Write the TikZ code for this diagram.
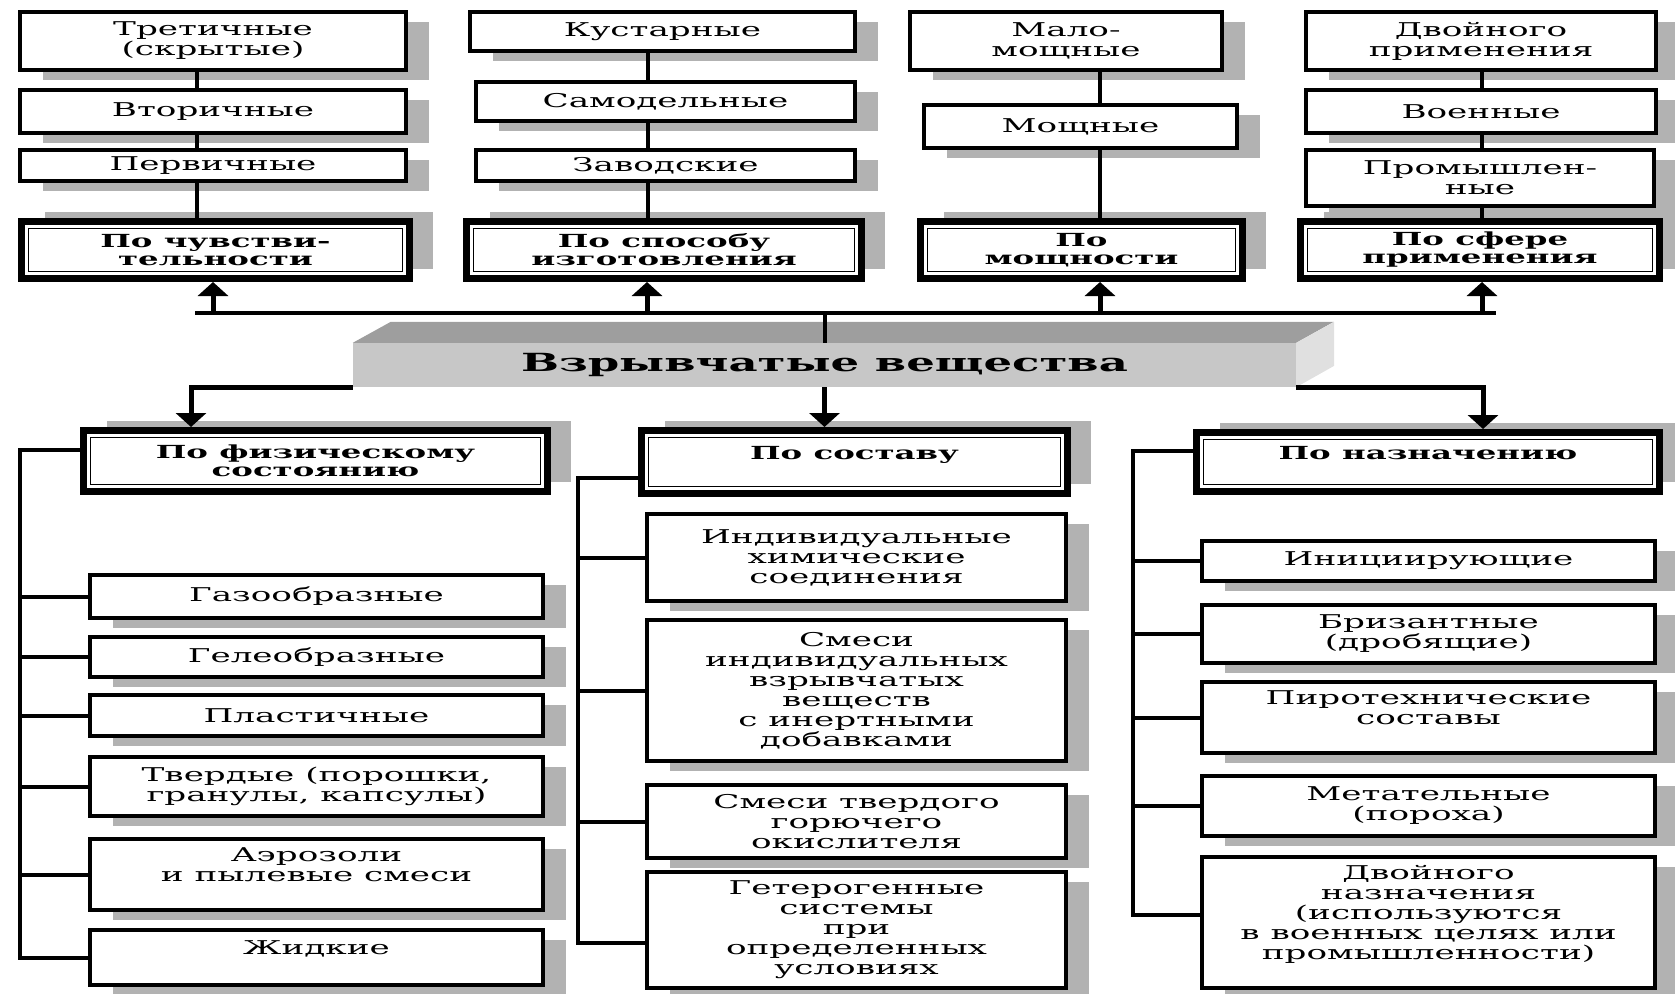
\documentclass[tikz,border=0pt]{standalone}
\usepackage{fontspec}
\setmainfont{DejaVu Serif}[FakeStretch=1.8]
\usetikzlibrary{arrows.meta,shadows}

\tikzset{
  box/.style={draw, line width=4pt, fill=white, align=center, inner sep=2pt,
    font=\fontsize{19}{20}\selectfont,
    drop shadow={shadow xshift=23pt, shadow yshift=-10pt, fill=black!30, opacity=1}},
  headbox/.style={draw, line width=7pt, fill=white, align=center, inner sep=2pt,
    font=\bfseries\fontsize{18}{18}\selectfont,
    drop shadow={shadow xshift=23pt, shadow yshift=10pt, fill=black!30, opacity=1},
    path picture={\draw[line width=1.6pt]
      ([shift={(7pt,-7pt)}]path picture bounding box.north west) rectangle
      ([shift={(-7pt,7pt)}]path picture bounding box.south east);}},
  link/.style={line width=4pt},
  arr/.style={line width=5pt, -{Triangle[length=14pt,width=30pt]}}
}

\begin{document}
\begin{tikzpicture}[x=1pt, y=-1pt]
\useasboundingbox (0,0) rectangle (1675,993);

% upper columns
\node[box, minimum width=386pt, minimum height=58pt] (sens3) at (213,41) {Третичные\\(скрытые)};
\node[box, minimum width=386pt, minimum height=43pt] (sens2) at (213,111.5) {Вторичные};
\node[box, minimum width=386pt, minimum height=31pt] (sens1) at (213,165.5) {Первичные};
\node[headbox, minimum width=388pt, minimum height=57pt] (sens) at (215.5,250) {По чувстви-\\тельности};

\node[box, minimum width=385pt, minimum height=39pt] (made3) at (662.5,31.5) {Кустарные};
\node[box, minimum width=379pt, minimum height=39pt] (made2) at (665.5,101.5) {Самодельные};
\node[box, minimum width=379pt, minimum height=31pt] (made1) at (665.5,165.5) {Заводские};
\node[headbox, minimum width=395pt, minimum height=57pt] (made) at (664,250) {По способу\\изготовления};

\node[box, minimum width=312pt, minimum height=58pt] (pow2) at (1066,41) {Мало-\\мощные};
\node[box, minimum width=313pt, minimum height=43pt] (pow1) at (1080.5,126.5) {Мощные};
\node[headbox, minimum width=322pt, minimum height=57pt] (pow) at (1081.5,250) {По\\мощности};

\node[box, minimum width=350pt, minimum height=58pt] (use3) at (1481,41) {Двойного\\применения};
\node[box, minimum width=350pt, minimum height=43pt] (use2) at (1481,111.5) {Военные};
\node[box, minimum width=348pt, minimum height=56pt] (use1) at (1480,178) {Промышлен-\\ные};
\node[headbox, minimum width=359pt, minimum height=57pt] (use) at (1480,250) {По сфере\\применения};

% central block
\node[fill=black!22, minimum width=943pt, minimum height=44pt, inner sep=0pt,
  font=\bfseries\fontsize{25}{25}\selectfont] (vv) at (824.5,365) {Взрывчатые вещества};
\fill[black!38] (vv.north west) -- ++(38,-21) -- ++(943,0) -- (vv.north east) -- cycle;
\fill[black!12] (vv.north east) -- ++(38,-21) -- ++(0,44) -- (vv.south east) -- cycle;

% lower columns
\node[headbox, minimum width=464pt, minimum height=61pt] (phys) at (315.5,461) {По физическому\\состоянию};
\node[headbox, minimum width=426pt, minimum height=63pt] (comp) at (854.5,462) {По составу\\\mbox{}};
\node[headbox, minimum width=463pt, minimum height=59pt] (aim) at (1428,462) {По назначению\\\mbox{}};

\node[box, minimum width=453pt, minimum height=43pt] (phys1) at (316.5,596.5) {Газообразные};
\node[box, minimum width=453pt, minimum height=40pt] (phys2) at (316.5,657) {Гелеобразные};
\node[box, minimum width=453pt, minimum height=41pt] (phys3) at (316.5,715.5) {Пластичные};
\node[box, minimum width=453pt, minimum height=59pt] (phys4) at (316.5,786.5) {Твердые (порошки,\\гранулы, капсулы)};
\node[box, minimum width=453pt, minimum height=71pt] (phys5) at (316.5,874.5) {Аэрозоли\\и пылевые смеси\\\mbox{}};
\node[box, minimum width=453pt, minimum height=55pt] (phys6) at (316.5,957.5) {Жидкие\\\mbox{}};

\node[box, minimum width=419pt, minimum height=87pt] (comp1) at (856.5,557.5) {Индивидуальные\\химические\\соединения};
\node[box, minimum width=419pt, minimum height=141pt] (comp2) at (856.5,690.5) {Смеси\\индивидуальных\\взрывчатых\\веществ\\с инертными\\добавками};
\node[box, minimum width=419pt, minimum height=73pt] (comp3) at (856.5,821.5) {Смеси твердого\\горючего\\окислителя};
\node[box, minimum width=419pt, minimum height=116pt] (comp4) at (856.5,930) {Гетерогенные\\системы\\при\\определенных\\условиях};

\node[box, minimum width=453pt, minimum height=40pt] (aim1) at (1428.5,561) {Инициирующие};
\node[box, minimum width=453pt, minimum height=58pt] (aim2) at (1428.5,634) {Бризантные\\(дробящие)};
\node[box, minimum width=453pt, minimum height=71pt] (aim3) at (1428.5,717.5) {Пиротехнические\\составы\\\mbox{}};
\node[box, minimum width=453pt, minimum height=60pt] (aim4) at (1428.5,806) {Метательные\\(пороха)};
\node[box, minimum width=453pt, minimum height=131pt] (aim5) at (1428.5,922.5) {Двойного\\назначения\\(используются\\в военных целях или\\промышленности)\\\mbox{}};

% connectors above
\coordinate (c1) at (197,0);
\coordinate (c2) at (648,0);
\coordinate (c3) at (1100,0);
\coordinate (c4) at (1482,0);
\foreach \a/\b/\c in {sens3/sens2/c1, sens2/sens1/c1, sens1/sens/c1,
    made3/made2/c2, made2/made1/c2, made1/made/c2,
    pow2/pow1/c3, pow1/pow/c3,
    use3/use2/c4, use2/use1/c4, use1/use/c4}
  \draw[link] (\a.south -| \c) -- (\b.north -| \c);

\coordinate (barL) at (195,313);
\coordinate (barR) at (1496,313);
\draw[link] (barL) -- (barR);
\draw[link] (vv.north) -- (vv.north |- barL);
\coordinate (a1) at (213,313);
\coordinate (a2) at (647,313);
\coordinate (a3) at (1100,313);
\coordinate (a4) at (1482,313);
\foreach \p/\n in {a1/sens, a2/made, a3/pow, a4/use}
  \draw[arr] (\p) -- (\p |- \n.south);

% connectors below
\coordinate (dl) at (191,385);
\coordinate (dr) at (1483,385);
\draw[arr] (vv.south) -- (vv.south |- comp.north);
\draw[arr] (vv.south west) -- (vv.south west -| dl) -- (dl |- phys.north);
\draw[arr] (vv.south east) -- (vv.south east -| dr) -- (dr |- aim.north);

\coordinate (sl) at (20,450);
\draw[link] (sl -| phys.west) -- (sl) -- (sl |- phys6.west) -- (phys6.west);
\foreach \n in {phys1,phys2,phys3,phys4,phys5}
  \draw[link] (\n.west) -- (\n.west -| sl);

\coordinate (sm) at (578,478);
\coordinate (smb) at (578,943);
\draw[link] (sm -| comp.west) -- (sm) -- (smb) -- (smb -| comp4.west);
\foreach \n in {comp1,comp2,comp3}
  \draw[link] (\n.west) -- (\n.west -| sm);

\coordinate (sr) at (1133,451);
\coordinate (srb) at (1133,915);
\draw[link] (sr -| aim.west) -- (sr) -- (srb) -- (srb -| aim5.west);
\foreach \n in {aim1,aim2,aim3,aim4}
  \draw[link] (\n.west) -- (\n.west -| sr);
\end{tikzpicture}
\end{document}
